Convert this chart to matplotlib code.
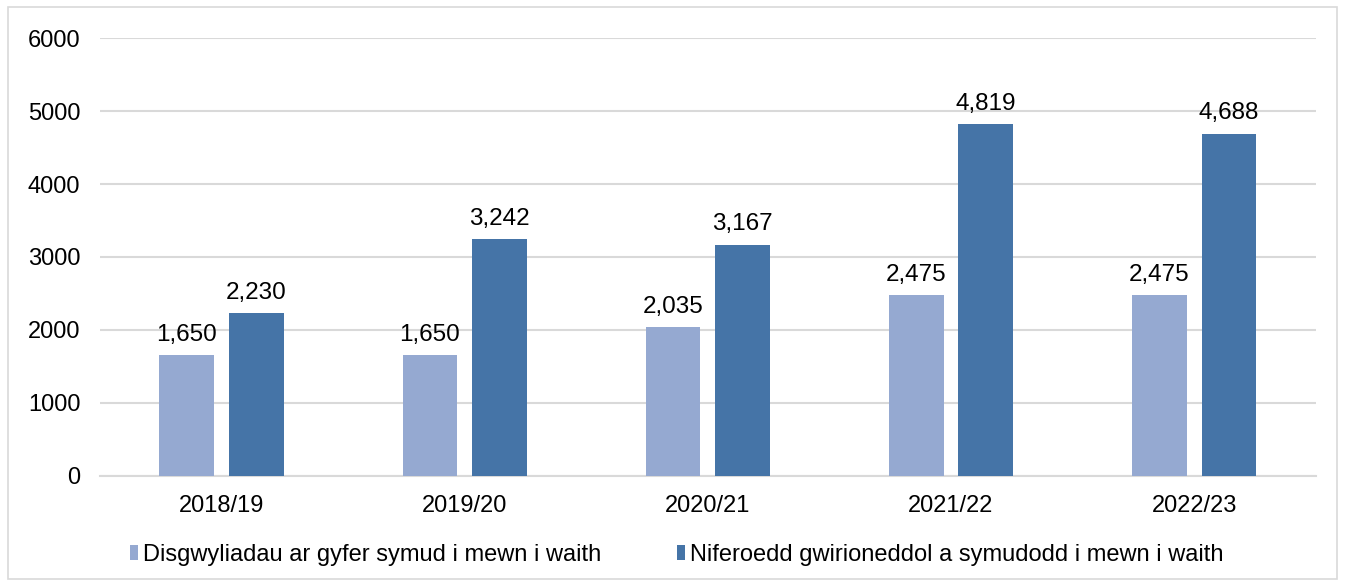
import numpy as np
import matplotlib.pyplot as plt
from matplotlib.patches import Rectangle

plt.rcParams['font.family'] = ['Liberation Sans', 'DejaVu Sans']

years = ["2018/19", "2019/20", "2020/21", "2021/22", "2022/23"]
expected = [1650, 1650, 2035, 2475, 2475]
actual = [2230, 3242, 3167, 4819, 4688]
labels = ["Disgwyliadau ar gyfer symud i mewn i waith",
          "Niferoedd gwirioneddol a symudodd i mewn i waith"]

light = "#95A9D1"
dark = "#4574A7"
grid = "#D9D9D9"

fig = plt.figure(figsize=(13.45, 5.86), dpi=100)
ax = fig.add_axes([0.0743, 0.188, 0.904, 0.747])

x = np.arange(len(years))
w = 0.225
b1 = ax.bar(x - 0.143, expected, w, color=light, label=labels[0], zorder=3)
b2 = ax.bar(x + 0.143, actual, w, color=dark, label=labels[1], zorder=3)

for bars in (b1, b2):
    for r in bars:
        ax.text(r.get_x() + r.get_width() / 2, r.get_height() + 130,
                f"{int(r.get_height()):,}", ha="center", va="bottom", fontsize=17.5)

ax.set_xlim(-0.5, len(years) - 0.5)
ax.set_ylim(0, 6000)
ax.set_yticks(range(0, 6001, 1000))
ax.set_xticks(x)
ax.set_xticklabels(years)
ax.tick_params(axis="both", length=0, labelsize=17)
ax.tick_params(axis="y", pad=14)
ax.tick_params(axis="x", pad=14)
ax.yaxis.grid(True, color=grid, linewidth=1.5, zorder=0)
for s in ["top", "right", "left"]:
    ax.spines[s].set_visible(False)
ax.spines["bottom"].set_color(grid)
ax.spines["bottom"].set_linewidth(1.5)

fig.legend(loc="center", bbox_to_anchor=(0.503, 0.053), ncol=2, frameon=False,
           fontsize=17, handlelength=0.35, handleheight=0.6, handletextpad=0.2,
           columnspacing=3.2)

fig.patches.append(Rectangle((0.006, 0.012), 0.988, 0.976, transform=fig.transFigure,
                             fill=False, edgecolor="#D9D9D9", linewidth=1.2))

fig.savefig("out.png", dpi=100)
